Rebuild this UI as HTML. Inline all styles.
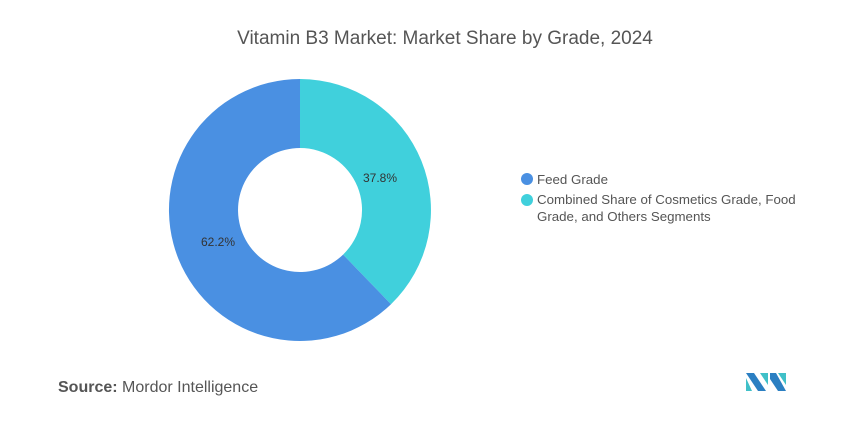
<!DOCTYPE html>
<html><head><style>
body{margin:0;background:#fff;width:847px;height:421px;overflow:hidden;font-family:"Liberation Sans",sans-serif;}
</style></head><body>
<svg width="847" height="421" xmlns="http://www.w3.org/2000/svg" style="position:absolute;left:0;top:0">
<text x="445" y="44" text-anchor="middle" font-size="19" fill="#555">Vitamin B3 Market: Market Share by Grade, 2024</text>
<path d="M300 79 A131 131 0 0 1 391 304.2 L343.1 254.6 A62 62 0 0 0 300 148 Z" fill="#40d0dc"/>
<path d="M391 304.2 A131 131 0 1 1 300 79 L300 148 A62 62 0 1 0 343.1 254.6 Z" fill="#4a90e2"/>
<text x="380" y="182" text-anchor="middle" font-size="12" fill="#333">37.8%</text>
<text x="218" y="246" text-anchor="middle" font-size="12" fill="#333">62.2%</text>
<circle cx="527" cy="179" r="6" fill="#4a90e2"/>
<text x="537" y="184" font-size="13.3" fill="#555">Feed Grade</text>
<circle cx="527" cy="200" r="6" fill="#40d0dc"/>
<text x="537" y="204" font-size="13.3" fill="#555">Combined Share of Cosmetics Grade, Food</text>
<text x="537" y="221" font-size="13.3" fill="#555">Grade, and Others Segments</text>
<text x="58" y="392" font-size="16" fill="#555"><tspan font-weight="bold">Source:</tspan> Mordor Intelligence</text>
<g transform="translate(746,373)">
<polygon points="0,0 8,0 20,18 12,18" fill="#2b7fc2"/>
<polygon points="0,5 6,18 0,18" fill="#40c0c8"/>
<polygon points="14,0 22,0 22,12" fill="#40c0c8"/>
<polygon points="24,0 30,0 40,18 32,18 24,6" fill="#2b7fc2"/>
<polygon points="32,0 40,0 40,12" fill="#40c0c8"/>
</g>
</svg>
</body></html>
